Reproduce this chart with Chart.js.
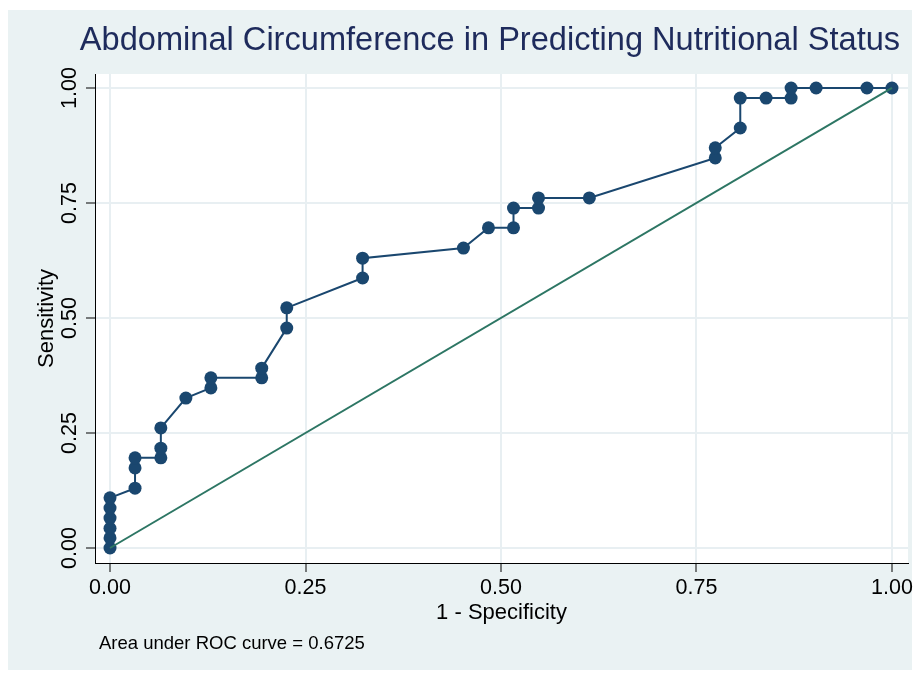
<!DOCTYPE html>
<html>
<head>
<meta charset="utf-8">
<script src="https://cdn.jsdelivr.net/npm/chart.js@4.4.1/dist/chart.umd.min.js"></script>
<style>
  html, body { margin: 0; padding: 0; background: #fff; }
  canvas { display: block; }
</style>
</head>
<body>
<canvas id="roc" width="920" height="675"></canvas>
<script>
// ROC points (1 - specificity, sensitivity)
const falsePosRate = [0, 0, 0, 0, 0, 0, 0.032, 0.032, 0.032, 0.065, 0.065, 0.065, 0.097, 0.129, 0.129,
  0.194, 0.194, 0.226, 0.226, 0.323, 0.323, 0.452, 0.484, 0.516, 0.516, 0.548, 0.548, 0.613,
  0.774, 0.774, 0.806, 0.806, 0.839, 0.871, 0.871, 0.903, 0.968, 1.0];
const sensitivity = [0, 0.022, 0.043, 0.065, 0.087, 0.109, 0.130, 0.174, 0.196, 0.196, 0.217, 0.261, 0.326, 0.348, 0.370,
  0.370, 0.391, 0.478, 0.522, 0.587, 0.630, 0.652, 0.696, 0.696, 0.739, 0.739, 0.761, 0.761,
  0.848, 0.870, 0.913, 0.978, 0.978, 0.978, 1.0, 1.0, 1.0, 1.0];
const refX = [0, 1];
const refY = [0, 1];
const xTicks = [0, 0.25, 0.5, 0.75, 1];
const yTicks = [0, 0.25, 0.5, 0.75, 1];
const titleText = "Abdominal Circumference in Predicting Nutritional Status";
const xTitle = "1 - Specificity";
const yTitle = "Sensitivity";
const aucNote = "Area under ROC curve = 0.6725";

const FONT = "'Liberation Sans', Arial, Helvetica, sans-serif";
const NAVY = "#1a476f";

const rocPoints = falsePosRate.map((x, i) => ({ x: x, y: sensitivity[i] }));
const refPoints = refX.map((x, i) => ({ x: x, y: refY[i] }));

// background panels, title and footnote
const framePlugin = {
  id: "frame",
  beforeDraw(chart) {
    const ctx = chart.ctx;
    const a = chart.chartArea;
    ctx.save();
    ctx.fillStyle = "#ffffff";
    ctx.fillRect(0, 0, chart.width, chart.height);
    ctx.fillStyle = "#eaf2f3";
    ctx.fillRect(8, 10, 904, 660);
    ctx.fillStyle = "#ffffff";
    ctx.fillRect(a.left, a.top, a.right - a.left, a.bottom - a.top);
    ctx.restore();
  },
  afterDraw(chart) {
    const ctx = chart.ctx;
    ctx.save();
    ctx.fillStyle = "#1e2b5c";
    ctx.font = "32.6px " + FONT;
    ctx.textAlign = "center";
    ctx.textBaseline = "middle";
    ctx.fillText(titleText, 490, 41);
    ctx.fillStyle = "#000000";
    ctx.font = "18.5px " + FONT;
    ctx.textAlign = "left";
    ctx.fillText(aucNote, 99, 644);
    ctx.restore();
  }
};

new Chart(document.getElementById("roc").getContext("2d"), {
  type: "scatter",
  data: {
    datasets: [
      {
        data: rocPoints,
        showLine: true,
        borderColor: NAVY,
        borderWidth: 2,
        backgroundColor: NAVY,
        pointRadius: 6.5,
        pointBorderWidth: 0,
        order: 2
      },
      {
        data: refPoints,
        showLine: true,
        borderColor: "#2d7664",
        borderWidth: 2,
        pointRadius: 0,
        order: 1
      }
    ]
  },
  plugins: [framePlugin],
  options: {
    responsive: false,
    animation: false,
    devicePixelRatio: 1,
    clip: false,
    layout: { padding: { left: 0, right: 12, top: 74, bottom: 0 } },
    plugins: {
      legend: { display: false },
      title: { display: false },
      tooltip: { enabled: false }
    },
    scales: {
      x: {
        type: "linear",
        min: -0.0192,
        max: 1.0205,
        afterBuildTicks: (scale) => { scale.ticks = xTicks.map(v => ({ value: v })); },
        afterFit: (scale) => { scale.height = 112; },
        grid: { color: "#e8eff2", lineWidth: 2, tickColor: "#000", tickLength: 9, tickWidth: 1 },
        border: { color: "#000", width: 1 },
        ticks: {
          color: "#000",
          padding: 3,
          maxRotation: 0,
          font: { family: FONT, size: 21.5 },
          callback: (v) => Number(v).toFixed(2)
        },
        title: {
          display: true,
          text: xTitle,
          color: "#000",
          font: { family: FONT, size: 22 },
          padding: { top: 0, bottom: 49 }
        }
      },
      y: {
        type: "linear",
        min: -0.0326,
        max: 1.0304,
        afterBuildTicks: (scale) => { scale.ticks = yTicks.map(v => ({ value: v })); },
        afterFit: (scale) => { scale.width = 95; },
        grid: { color: "#e8eff2", lineWidth: 2, tickColor: "#000", tickLength: 9, tickWidth: 1 },
        border: { color: "#000", width: 1 },
        ticks: {
          color: "#000",
          padding: -5,
          minRotation: 90,
          maxRotation: 90,
          crossAlign: "center",
          font: { family: FONT, size: 21.5 },
          callback: (v) => Number(v).toFixed(2)
        },
        title: {
          display: true,
          text: yTitle,
          color: "#000",
          font: { family: FONT, size: 22 },
          padding: { top: 34, bottom: 0 }
        }
      }
    }
  }
});
</script>
</body>
</html>
